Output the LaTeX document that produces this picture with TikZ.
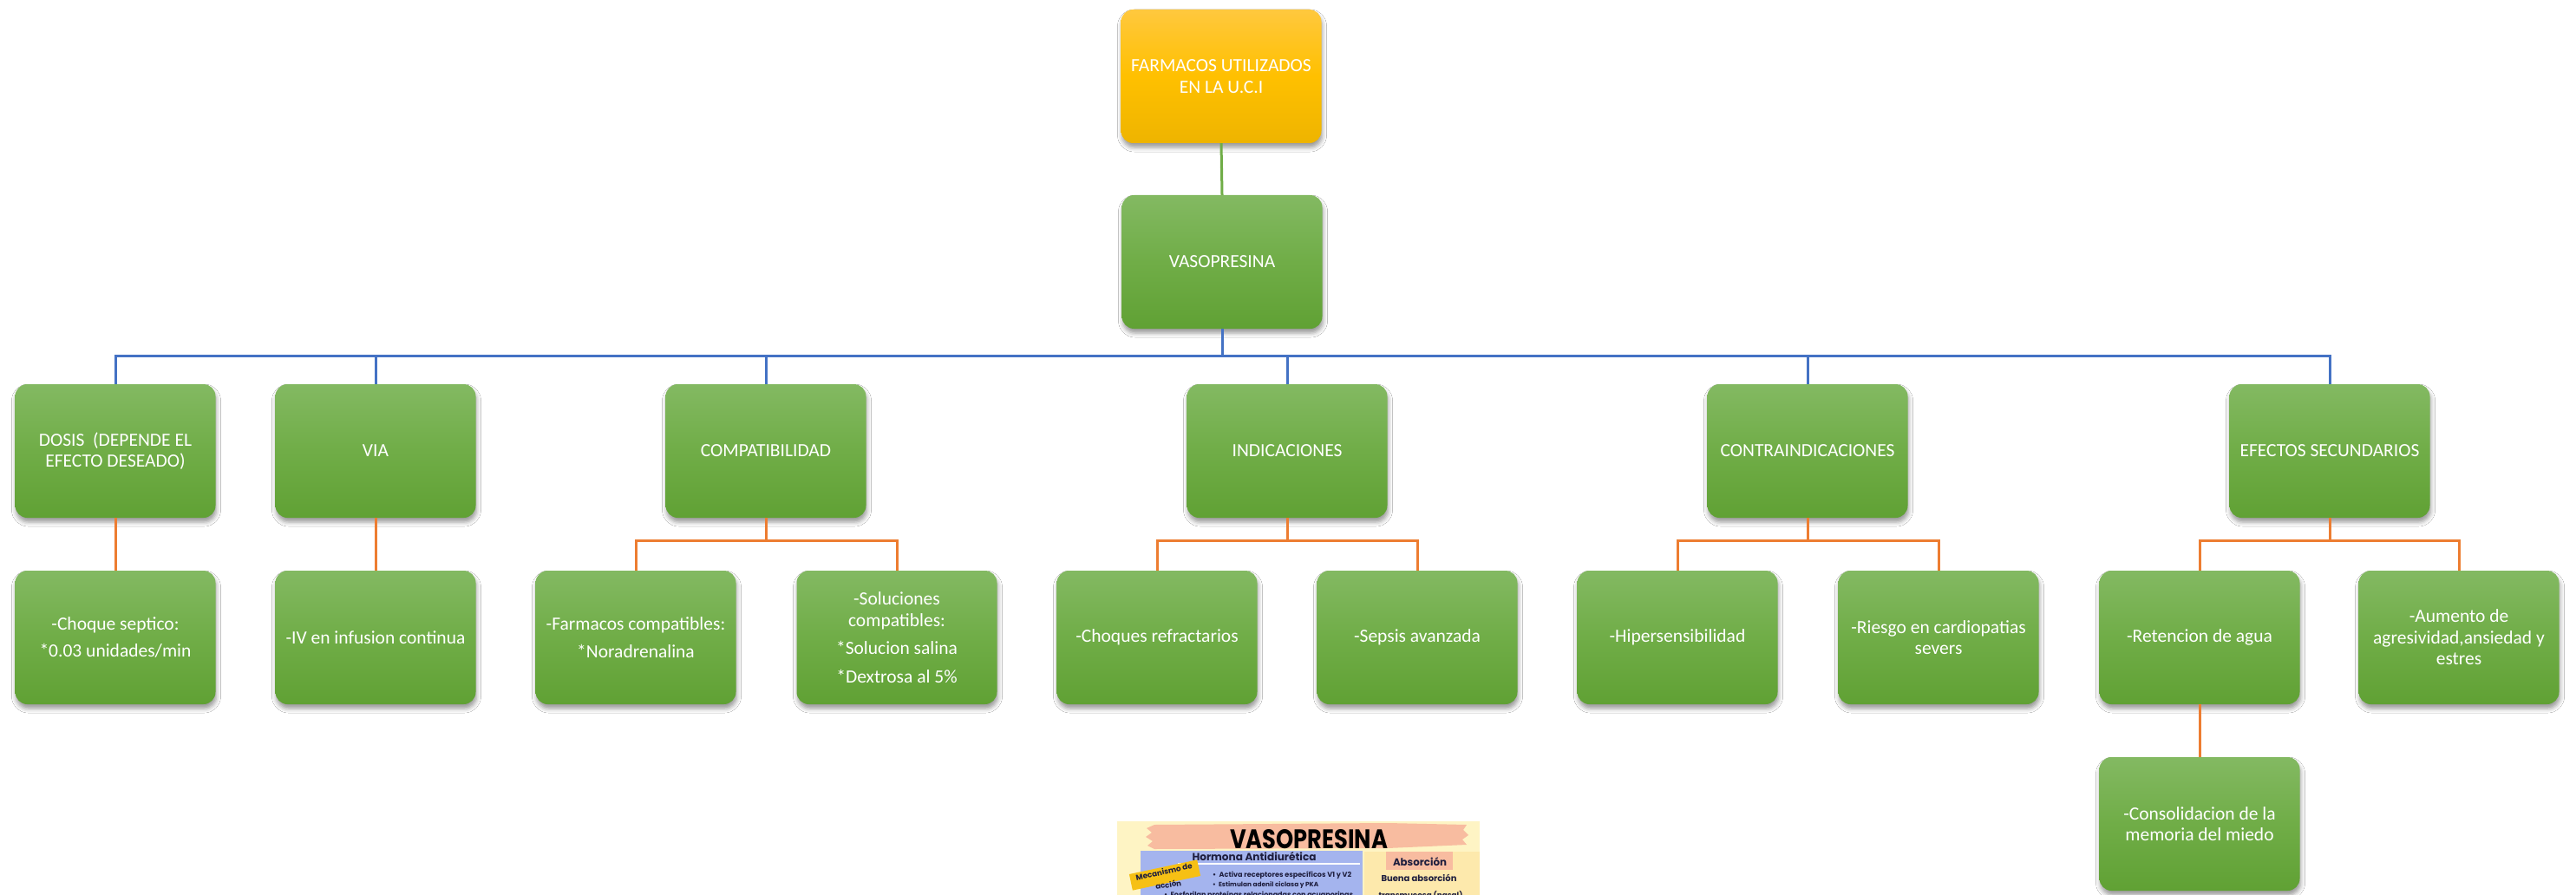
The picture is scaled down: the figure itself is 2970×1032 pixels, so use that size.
\documentclass[tikz,border=0pt]{standalone}
\usepackage{fontspec}
\usepackage{graphicx}
\setmainfont{Carlito}
\newfontfamily\infofont{Poppins}
\usetikzlibrary{shadows.blur}

% card fills
\definecolor{gTop}{RGB}{131,185,98}
\definecolor{gMid}{RGB}{112,173,71}
\definecolor{gBot}{RGB}{96,161,52}
\definecolor{yTop}{RGB}{255,200,62}
\definecolor{yMid}{RGB}{255,192,0}
\definecolor{yBot}{RGB}{238,180,0}
% connectors
\definecolor{lnBlue}{RGB}{68,114,196}
\definecolor{lnOrange}{RGB}{237,125,49}
\definecolor{lnGreen}{RGB}{112,173,71}
% summary sheet
\definecolor{infoBg}{RGB}{254,244,196}
\definecolor{infoSalmon}{RGB}{248,188,160}
\definecolor{infoBlue}{RGB}{164,180,238}
\definecolor{infoPeach}{RGB}{253,233,172}
\definecolor{infoGold}{RGB}{246,192,20}
\definecolor{infoInk}{RGB}{30,30,62}

\begin{document}
\begin{tikzpicture}[
  x=1pt, y={(0pt,-1pt)},
  card/.style={rounded corners=14pt, minimum width=231pt, minimum height=154pt,
    inner sep=4pt, align=center, text=white,
    font=\fontsize{21.5}{24.5}\selectfont,
    blur shadow={shadow xshift=1pt, shadow yshift=-5pt,
                 shadow blur radius=5pt, shadow opacity=40}},
  greencard/.style={card, top color=gTop, bottom color=gBot, middle color=gMid},
  goldcard/.style={card, top color=yTop, bottom color=yBot, middle color=yMid},
  link/.style={line width=3pt},
  gl/.style={link, draw=lnGreen},
  bl/.style={link, draw=lnBlue},
  ol/.style={link, draw=lnOrange},
  infotext/.style={inner sep=0pt, text=infoInk, font=\infofont\bfseries},
]
\fill[white] (0,0) rectangle (2970,1032);
\useasboundingbox (0,0) rectangle (2970,1032);

% ---- top levels
\node[goldcard]  (uci)  at (1408,88)  {FARMACOS UTILIZADOS\\EN LA U.C.I};
\node[greencard] (vaso) at (1409,302) {VASOPRESINA};

% ---- categories
\node[greencard] (dosis)   at (133,520)  {DOSIS\ \ (DEPENDE EL\\EFECTO DESEADO)};
\node[greencard] (via)     at (433,520)  {VIA};
\node[greencard] (comp)    at (883,520)  {COMPATIBILIDAD};
\node[greencard] (ind)     at (1484,520) {INDICACIONES};
\node[greencard] (contra)  at (2084,520) {CONTRAINDICACIONES};
\node[greencard] (efectos) at (2686,520) {EFECTOS SECUNDARIOS};

% ---- details
\node[greencard] (choque) at (133,735)  {-Choque septico:\\[7pt]*0.03 unidades/min};
\node[greencard] (iv)     at (433,735)  {-IV en infusion continua};
\node[greencard] (farm)   at (733,735)  {-Farmacos compatibles:\\[7pt]*Noradrenalina};
\node[greencard] (sol)    at (1034,735) {-Soluciones\\compatibles:\\[8pt]*Solucion salina\\[8pt]*Dextrosa al 5\%};
\node[greencard] (refr)   at (1334,735) {-Choques refractarios};
\node[greencard] (sepsis) at (1634,735) {-Sepsis avanzada};
\node[greencard] (hiper)  at (1934,735) {-Hipersensibilidad};
\node[greencard] (riesgo) at (2235,735) {-Riesgo en cardiopatias\\severs};
\node[greencard] (reten)  at (2536,735) {-Retencion de agua};
\node[greencard] (aum)    at (2835,735) {-Aumento de\\agresividad,ansiedad y\\estres};
\node[greencard] (memo)   at (2536,950) {-Consolidacion de la\\memoria del miedo};

% ---- connectors
\draw[gl] (uci.south) -- (vaso.north);

\foreach \c in {dosis,via,comp,ind,contra,efectos}
  \draw[bl] (vaso.south) |- ([yshift=32pt]\c.north) -- (\c.north);

\draw[ol] (dosis.south) -- (choque.north);
\draw[ol] (via.south) -- (iv.north);
\foreach \p/\c in {comp/farm,comp/sol,ind/refr,ind/sepsis,contra/hiper,contra/riesgo,efectos/reten,efectos/aum}
  \draw[ol] (\p.south) |- ([yshift=34pt]\c.north) -- (\c.north);
\draw[ol] (reten.south) -- (memo.north);

% ---- summary sheet (cut off at the bottom edge)
\begin{scope}
  \clip (1288,947) rectangle (1706,1032);
  \fill[infoBg] (1288,947) rectangle (1706,1040);
  % brush-stroke banner
  \fill[infoSalmon] (1331,951) -- (1600,949) -- (1691,951) -- (1687,957) -- (1693,963)
    -- (1686,968) -- (1691,974) -- (1600,978) -- (1331,979) -- (1323,975) -- (1329,970)
    -- (1321,965) -- (1328,960) -- (1322,955) -- cycle;
  \node[inner sep=0pt, anchor=base] (title) at (1509,978)
    {\resizebox{182pt}{22pt}{\infofont\bfseries VASOPRESINA}};
  % panels
  \fill[infoBlue] (1315,981) rectangle (1571,1040);
  \fill[infoPeach] (1573,982) rectangle (1706,1040);
  \fill[infoSalmon] (1598,982) rectangle (1675,1003);
  % left panel
  \node[infotext, anchor=base] (hormona) at (1446,992)
    {\resizebox{143pt}{!}{Hormona Antidiurética}};
  \draw[white, line width=2pt] (1358,996) -- (1568,996);
  \node[infotext, anchor=base west] (b1) at (1398,1011)
    {\resizebox{160pt}{!}{\textbullet\ \ Activa receptores específicos V1 y V2}};
  \node[infotext, anchor=base west] (b2) at (1398,1022)
    {\resizebox{122pt}{!}{\textbullet\ \ Estimulan adenil ciclasa y PKA}};
  \node[infotext, anchor=base west] (b3) at (1342,1034)
    {\resizebox{220pt}{!}{\textbullet\ \ Fosforilan proteínas relacionadas con acuaporinas.}};
  % tilted tag
  \node[fill=infoGold, rotate=12, minimum width=80pt, minimum height=19pt, inner sep=0pt]
    (tag) at (1343,1009) {};
  \node[infotext, rotate=12] (tag1) at (1342,1005)
    {\resizebox{66pt}{!}{Mecanismo de}};
  \node[infotext, rotate=9] (tag2) at (1347,1020)
    {\resizebox{30pt}{!}{acción}};
  % right panel
  \node[infotext, anchor=base] (abs) at (1637,998)
    {\resizebox{62pt}{!}{Absorción}};
  \node[infotext, anchor=base] (abs1) at (1636,1016)
    {\resizebox{87pt}{!}{Buena absorción}};
  \node[infotext, anchor=base] (abs2) at (1638,1035)
    {\resizebox{97pt}{!}{transmucosa (nasal)}};
\end{scope}
\end{tikzpicture}
\end{document}
